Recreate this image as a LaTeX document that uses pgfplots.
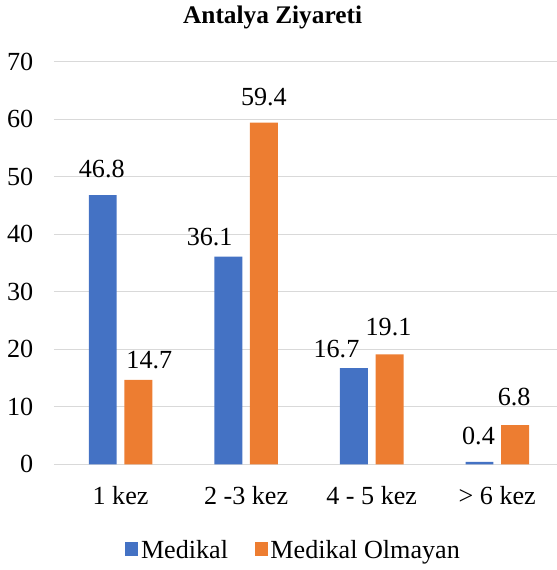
\documentclass[border=0pt]{standalone}
\usepackage{fontspec}
\setmainfont{Liberation Serif}
\usepackage{pgfplots}
\usepackage{pgfplotstable}
\pgfplotsset{compat=1.18}
\definecolor{medA}{HTML}{4472C4}
\definecolor{medB}{HTML}{ED7D31}
\definecolor{gridc}{HTML}{D9D9D9}
\newcommand{\chartfont}{\fontsize{19.6}{23}\selectfont}

% dx, dy: label offsets (pt), as the labels sit in the original
\pgfplotstableread{
x y dx dy
0 46.8 -0.75 12.7
1 36.1 -14.0 7.9
2 16.7 -13.1 7.9
3 0.4 -0.75 12.7
}\medikal
\pgfplotstableread{
x y dx dy
0 14.7 8.25 7.9
1 59.4 0 12.7
2 19.1 -0.75 13.5
3 6.8 -0.75 14
}\olmayan

\begin{document}
\begin{tikzpicture}
  \begin{axis}[
    name=ax,
    scale only axis,
    width=377.3pt, height=302pt,
    ybar=5.7pt, bar width=21pt,
    xmin=-0.53, xmax=3.475,
    ymin=0, ymax=70,
    ytick={0,10,...,70},
    xtick={0,1,2,3},
    xticklabels={1 kez, 2 -3 kez, 4 - 5 kez, > 6 kez},
    axis lines*=left,
    x axis line style={draw=gridc, line width=0.8pt},
    y axis line style={draw=none},
    major tick length=0pt,
    ymajorgrids=true,
    major grid style={draw=gridc, line width=0.8pt},
    /pgf/number format/assume math mode=true,
    ticklabel style={font=\chartfont},
    yticklabel style={xshift=-12pt},
    xticklabel style={anchor=base, yshift=-30.5pt},
    nodes near coords,
    visualization depends on={\thisrow{dx} \as \dx},
    visualization depends on={\thisrow{dy} \as \dy},
    nodes near coords style={font=\chartfont, text=black, anchor=south,
      inner sep=0pt, xshift=\dx pt, yshift=\dy pt,
      /pgf/number format/fixed, /pgf/number format/precision=1,
      /pgf/number format/fixed zerofill},
    legend style={at={(0.477,-0.215)}, anchor=center, draw=none,
      font=\chartfont, legend columns=2,
      /tikz/every even column/.append style={column sep=18pt}},
    legend image code/.code={\fill[#1] (0pt,-3.5pt) rectangle (9.8pt,6.3pt);},
    clip=false,
  ]
    \addplot[fill=medA, draw=none] table[x=x, y=y] {\medikal};
    \addplot[fill=medB, draw=none] table[x=x, y=y] {\olmayan};
    \legend{Medikal, Medikal Olmayan}
  \end{axis}
  \node[anchor=base, font=\fontsize{19}{22}\selectfont\bfseries]
    at ([xshift=164pt, yshift=28.8pt]ax.north west) {Antalya Ziyareti};
  \pgfresetboundingbox
  \path ([xshift=-40.5pt, yshift=-79.3pt]ax.south west)
    rectangle ([yshift=46.3pt]ax.north east);
\end{tikzpicture}
\end{document}
